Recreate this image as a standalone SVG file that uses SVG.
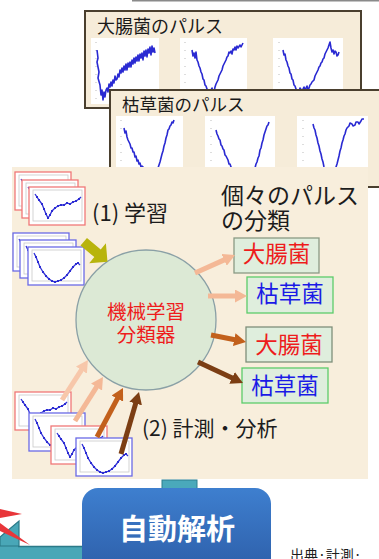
<svg xmlns="http://www.w3.org/2000/svg" xmlns:xlink="http://www.w3.org/1999/xlink" width="379" height="559" viewBox="0 0 379 559">
<style>
.jp{font-family:"Noto Sans CJK JP","Noto Sans",sans-serif}
.panel{fill:#f6ecd9;stroke:#4a3f2e;stroke-width:2}
.thumb{fill:#fff}
.pulse{fill:none;stroke:#2a2ad2;stroke-width:1.6;stroke-linejoin:round}
.ttl{font-size:18px;fill:#1a1a1a}
.box{fill:#dfeedd;stroke-width:1.3}
.red{fill:#ee1c1c}
.blue{fill:#1a1ae6}
.blk{fill:#1c1c1c}
.shaft{fill:none;stroke-linecap:butt}
</style>
<defs>
<marker id="dot" viewBox="0 0 4 4" refX="2" refY="2" markerWidth="2.4" markerHeight="2.4" markerUnits="userSpaceOnUse"><circle cx="2" cy="2" r="2" fill="#2a2ad2"/></marker>
<marker id="hPeach" viewBox="0 0 12 13" refX="2" refY="6.5" markerWidth="12" markerHeight="13" markerUnits="userSpaceOnUse" orient="auto"><path d="M0,0 L12,6.5 L0,13 z" fill="#f4b896"/></marker>
<marker id="hPeach2" viewBox="0 0 12 13" refX="2" refY="6.5" markerWidth="12" markerHeight="13" markerUnits="userSpaceOnUse" orient="auto"><path d="M0,0 L12,6.5 L0,13 z" fill="#f7c7aa"/></marker>
<marker id="hOrange" viewBox="0 0 12 13" refX="2" refY="6.5" markerWidth="12" markerHeight="13" markerUnits="userSpaceOnUse" orient="auto"><path d="M0,0 L12,6.5 L0,13 z" fill="#c2601c"/></marker>
<marker id="hBrown" viewBox="0 0 12 13" refX="2" refY="6.5" markerWidth="12" markerHeight="13" markerUnits="userSpaceOnUse" orient="auto"><path d="M0,0 L12,6.5 L0,13 z" fill="#7c3e14"/></marker>
<linearGradient id="gBlue" x1="0" y1="0" x2="0" y2="1"><stop offset="0" stop-color="#3e7fcf"/><stop offset="1" stop-color="#2c5ca6"/></linearGradient>
<g id="cardR"><rect width="56" height="38" fill="#fff" stroke="#f07878" stroke-width="1.3"/><rect x="4" y="3" width="49" height="31" fill="none" stroke="#c8c8c8" stroke-width="0.8"/><polyline fill="none" stroke="#3030d8" stroke-width="1.3" marker-mid="url(#dot)" points="6,7 8,10 10,13 13,17 15,22 17,27 19,31 21,28 23,24 26,21 29,19 32,18 35,18 38,16 41,17 44,15 47,14 50,12 52,10"/></g>
<g id="cardB"><rect width="56" height="38" fill="#fff" stroke="#6a6ae6" stroke-width="1.3"/><rect x="4" y="3" width="49" height="31" fill="none" stroke="#c8c8c8" stroke-width="0.8"/><polyline fill="none" stroke="#3030d8" stroke-width="1.3" marker-mid="url(#dot)" points="6,6 8,10 10,15 12,20 15,25 18,29 21,32 24,34 27,35 30,34 33,33 36,31 39,28 42,24 45,20 48,17 50,16 52,18"/></g>
</defs>
<rect width="379" height="559" fill="#fff"/>
<line x1="132" y1="0.8" x2="379" y2="0.8" stroke="#8a8a8a" stroke-width="1.6"/>

<g id="panel-ecoli">
<rect class="panel" x="85" y="11" width="276" height="97"/>
<text class="jp ttl" x="97" y="33">大腸菌のパルス</text>
<rect class="thumb" x="91" y="38" width="68" height="66"/>
<rect class="thumb" x="180" y="38" width="67" height="56"/>
<rect class="thumb" x="273" y="38" width="70" height="56"/>
<g stroke="#bbb" stroke-width="1" stroke-dasharray="1 7"><line x1="96" y1="42" x2="96" y2="102"/><line x1="185" y1="42" x2="185" y2="92"/><line x1="279" y1="42" x2="279" y2="92"/></g>
<polyline class="pulse" points="97,50 98,58 97,62 99,72 98,78 100,85 101,95 102,90 103,100 104,92 105,97 106,90 107,88 108,92 109,84 110,87 111,82 112,86 113,80 114,83 115,76 116,80 117,79 118,74 119,77 120,70 121,73 122,68 123,72 124,66 125,70 126,64 127,70 128,63 129,67 130,62 131,67 132,60 133,64 134,58 135,63 136,57 137,61 138,55 139,61 140,54 141,58 142,53 143,60 144,51 145,56 146,50 147,57 148,49 149,53 150,47 151,55 152,46 153,52 154,48 155,53"/>
<polyline class="pulse" points="192,50 193,56 194,53 195,58 196,52 197,60 198,62 199,66 200,68 201,72 202,74 203,79 204,80 205,85 206,86 207,89 208,90 209,93 210,92 211,90 212,88 213,93 214,92 215,87 216,84 217,82 218,80 219,76 220,74 221,72 222,70 223,66 224,64 225,62 226,60 227,57 228,56 229,52 230,53 231,51 232,54 233,49 234,50 235,47 236,50 237,46 238,48 240,45 241,47 243,43"/>
<polyline class="pulse" points="283,50 284,55 285,54 286,60 287,62 288,66 289,68 290,73 291,74 292,79 293,80 294,85 295,86 296,89 297,90 298,93 299,92 300,88 302,91 304,87 305,90 307,86 308,91 310,85 311,84 312,82 314,80 315,76 316,74 317,72 318,70 319,67 320,66 321,63 322,62 323,59 324,58 325,54 326,52 327,50 328,48 329,45 330,42 331,48 332,52 333,50 334,54 335,51 336,52 337,56 338,55 339,52"/>
</g>

<g id="panel-subtilis">
<rect class="panel" x="110" y="90" width="280" height="97"/>
<text class="jp ttl" x="122" y="111" style="font-size:17.5px">枯草菌のパルス</text>
<rect class="thumb" x="116" y="116" width="67" height="60"/>
<rect class="thumb" x="205" y="116" width="70" height="60"/>
<rect class="thumb" x="297" y="116" width="71" height="60"/>
<g stroke="#bbb" stroke-width="1" stroke-dasharray="1 7"><line x1="121" y1="120" x2="121" y2="170"/><line x1="211" y1="120" x2="211" y2="170"/><line x1="303" y1="120" x2="303" y2="170"/></g>
<polyline class="pulse" points="124,128 125,133 126,131 127,137 128,140 129,142 130,144 131,148 132,148 133,152 134,152 135,157 136,156 137,161 138,160 139,164 140,163 141,167 142,166 144,168 150,175 158,168 159,165 160,162 161,158 162,154 163,151 164,146 165,143 166,138 167,135 168,130 169,129 170,126 171,125 172,122 173,123 174,120"/>
<polyline class="pulse" points="216,130 217,134 218,136 219,139 220,140 221,145 222,146 223,149 224,150 225,155 226,156 227,158 228,160 229,164 230,164 231,167 232,168 245,172 255,168 256,164 257,162 258,158 259,156 260,150 261,148 262,143 263,140 264,135 265,132 266,129 267,126 268,125 269,122"/>
<polyline class="pulse" points="313,124 314,128 315,130 316,135 317,138 318,143 319,146 320,151 321,154 322,159 323,162 324,167 325,170 335,172 336,167 337,164 338,160 339,156 340,151 341,148 342,143 343,140 344,136 345,134 346,130 347,128 348,127 349,126 350,123 352,124 353,126 355,125 356,122 358,122 359,124 361,121 362,119 364,119"/>
</g>

<g id="main-panel">
<rect x="12" y="167" width="356" height="312" fill="#f8eedc"/>
</g>

<g id="training-ecoli">
<use xlink:href="#cardR" x="15" y="172"/>
<use xlink:href="#cardR" x="22" y="180"/>
<use xlink:href="#cardR" x="29" y="187"/>
</g>
<g id="training-subtilis">
<use xlink:href="#cardB" x="13" y="233"/>
<use xlink:href="#cardB" x="20" y="240"/>
<use xlink:href="#cardB" x="28" y="247"/>
</g>
<g id="label-learning"><text class="jp blk" x="92" y="221" font-size="22">(1) 学習</text></g>
<g id="label-individual">
<text class="jp blk" x="221" y="204" font-size="23">個々のパルス</text>
<text class="jp blk" x="221" y="229" font-size="23">の分類</text>
</g>

<g id="classifier">
<circle cx="146" cy="320" r="70" fill="#dce9d5" stroke="#8aa0a6" stroke-width="1.3"/>
<text class="jp red" x="146" y="319" font-size="19.5" text-anchor="middle">機械学習</text>
<text class="jp red" x="146" y="342" font-size="19.5" text-anchor="middle">分類器</text>
</g>

<g id="measured-cards">
<use xlink:href="#cardR" x="15" y="392"/>
<use xlink:href="#cardB" x="29" y="413"/>
<use xlink:href="#cardR" x="51" y="426"/>
<use xlink:href="#cardB" x="76" y="438"/>
</g>
<g id="label-measure"><text class="jp blk" x="142" y="436" font-size="21">(2) 計測・分析</text></g>

<g id="result-1"><rect class="box" x="234" y="238" width="85" height="35" stroke="#8a9a84"/><text class="jp red" x="276.5" y="262" font-size="22.5" text-anchor="middle">大腸菌</text></g>
<g id="result-2"><rect class="box" x="247" y="277" width="86" height="36" stroke="#5ccc6a"/><text class="jp blue" x="290" y="302" font-size="22.5" text-anchor="middle">枯草菌</text></g>
<g id="result-3"><rect class="box" x="246" y="327" width="86" height="35" stroke="#7f8f7a"/><text class="jp red" x="289" y="353" font-size="22.5" text-anchor="middle">大腸菌</text></g>
<g id="result-4"><rect class="box" x="242" y="368" width="86" height="35" stroke="#5ccc6a"/><text class="jp blue" x="285" y="394" font-size="22.5" text-anchor="middle">枯草菌</text></g>

<g id="connectors">
<polygon transform="translate(96,252) rotate(40)" points="-16,-5 2,-5 2,-13 15,0 2,13 2,5 -16,5" fill="#b8b40c"/>
<line class="shaft" x1="195" y1="273" x2="225.9" y2="259.1" stroke="#f4b896" stroke-width="5" marker-end="url(#hPeach)"/>
<line class="shaft" x1="208" y1="296" x2="237" y2="296" stroke="#f4b896" stroke-width="5" marker-end="url(#hPeach)"/>
<line class="shaft" x1="211" y1="335" x2="236.2" y2="340" stroke="#c2601c" stroke-width="5" marker-end="url(#hOrange)"/>
<line class="shaft" x1="198" y1="362" x2="233.9" y2="378.8" stroke="#7c3e14" stroke-width="5" marker-end="url(#hBrown)"/>
<line class="shaft" x1="62" y1="400" x2="82.5" y2="368.4" stroke="#f7c7aa" stroke-width="5" marker-end="url(#hPeach2)"/>
<line class="shaft" x1="75" y1="421" x2="97.6" y2="385.4" stroke="#f4b896" stroke-width="5" marker-end="url(#hPeach)"/>
<line class="shaft" x1="97" y1="437" x2="118.3" y2="396.8" stroke="#c2601c" stroke-width="5" marker-end="url(#hOrange)"/>
<line class="shaft" x1="121" y1="454" x2="136.2" y2="401.6" stroke="#7c3e14" stroke-width="5" marker-end="url(#hBrown)"/>
</g>

<g id="decoration">
<rect x="0" y="546" width="100" height="13" fill="#49a7b7"/>
<line x1="18" y1="546.5" x2="100" y2="546.5" stroke="#2b7a88" stroke-width="1.5"/>
<polygon points="19,521 19,546 0,546 0,537" fill="#49a7b7" stroke="#2b7a88" stroke-width="1.2"/>
<polygon points="0,509 22,514 0,518" fill="#e8363a"/>
<polygon points="0,523 30,545 0,531" fill="#e8363a"/>
<rect x="162" y="480" width="35" height="12" fill="#4aa9bb" stroke="#2d7f8e" stroke-width="1"/>
</g>

<g id="auto-analysis">
<rect x="82" y="488" width="189" height="90" rx="16" fill="url(#gBlue)"/>
<text class="jp" x="177" y="540" font-size="29" font-weight="bold" fill="#fff" text-anchor="middle">自動解析</text>
</g>

<g id="source"><text class="jp blk" x="290" y="560" font-size="14">出典·計測·</text></g>
</svg>
